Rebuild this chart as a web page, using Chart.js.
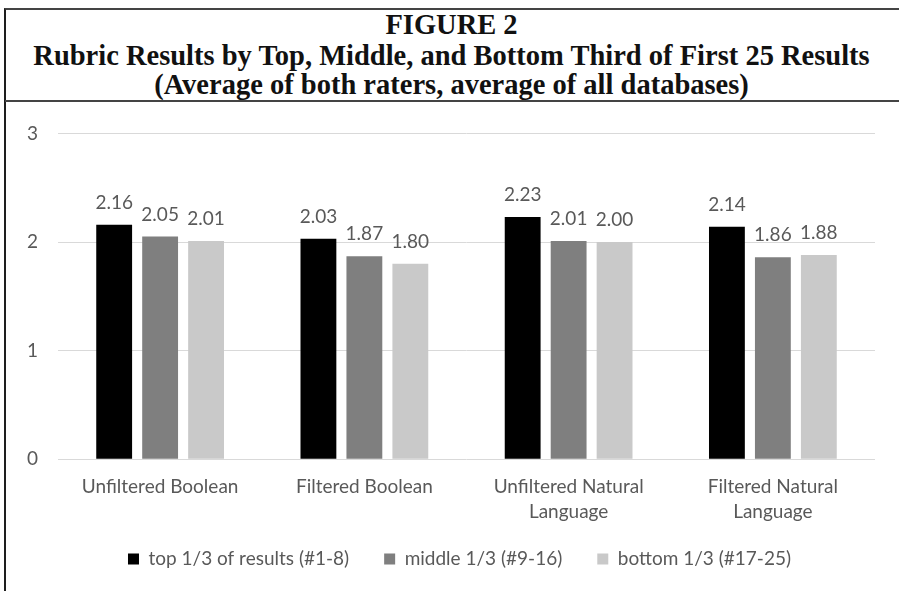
<!DOCTYPE html>
<html>
<head>
<meta charset="utf-8">
<script src="https://cdn.jsdelivr.net/npm/chart.js@4.4.1/dist/chart.umd.min.js"></script>
<style>
  html, body { margin: 0; padding: 0; background: #ffffff; }
  body { width: 899px; height: 591px; position: relative; overflow: hidden; }
  #frame {
    position: absolute; left: 4px; top: 8px; width: 900px; height: 600px;
    border-top: 2px solid #444444; border-left: 2px solid #1e1e1e;
  }
  #rule {
    position: absolute; left: 5px; top: 100px; width: 900px; height: 0;
    border-top: 2px solid #444444;
  }
  .title {
    position: absolute; left: 0; width: 903px; text-align: center;
    font-family: "Liberation Serif", "Times New Roman", serif; font-weight: bold;
    font-size: 28.5px; line-height: 29px; color: #111111; white-space: nowrap;
  }
  #chartBox { position: absolute; left: 6px; top: 102px; }
</style>
</head>
<body>
<div id="frame"></div>
<div id="rule"></div>
<div class="title" style="top:10px">FIGURE 2</div>
<div class="title" style="top:41px">Rubric Results by Top, Middle, and Bottom Third of First 25 Results</div>
<div class="title" style="top:70px">(Average of both raters, average of all databases)</div>
<div id="chartBox"><canvas id="chart" width="893" height="489"></canvas></div>
<script>
// Search approaches compared
const categories = [
  "Unfiltered Boolean",
  "Filtered Boolean",
  ["Unfiltered Natural", "Language"],
  ["Filtered Natural", "Language"]
];

// Average rubric score for each third of the first 25 results
const topThird    = [2.16, 2.03, 2.23, 2.14];
const middleThird = [2.05, 1.87, 2.01, 1.86];
const bottomThird = [2.01, 1.80, 2.00, 1.88];

const seriesNames = [
  "top 1/3 of results (#1-8)",
  "middle 1/3 (#9-16)",
  "bottom 1/3 (#17-25)"
];

const yTicks = [0, 1, 2, 3];

const textColor = "#595959";
const fontFamily = "Lato, 'Open Sans', sans-serif";

// Writes each bar's value above it
const valueLabels = {
  id: "valueLabels",
  afterDatasetsDraw(chart) {
    const ctx = chart.ctx;
    ctx.save();
    ctx.font = "19px " + fontFamily;
    ctx.fillStyle = textColor;
    ctx.textAlign = "center";
    ctx.textBaseline = "alphabetic";
    chart.data.datasets.forEach((ds, i) => {
      const meta = chart.getDatasetMeta(i);
      meta.data.forEach((bar, j) => {
        ctx.fillText(ds.data[j].toFixed(2), bar.x, bar.y - 16);
      });
    });
    ctx.restore();
  }
};

// The category axis is kept short so the legend sits close under it;
// widen its clip box so the second line of the two-line labels still shows,
// and centre the legend under the plot rather than the whole canvas.
const layoutTweaks = {
  id: "layoutTweaks",
  afterLayout(chart) {
    chart.scales.x.bottom += 30;
    chart.legend.left += 19;
    chart.legend.right += 19;
  }
};

new Chart(document.getElementById("chart"), {
  type: "bar",
  data: {
    labels: categories,
    datasets: [
      { label: seriesNames[0], data: topThird,    backgroundColor: "#000000" },
      { label: seriesNames[1], data: middleThird, backgroundColor: "#7f7f7f" },
      { label: seriesNames[2], data: bottomThird, backgroundColor: "#c9c9c9" }
    ]
  },
  options: {
    responsive: false,
    animation: false,
    devicePixelRatio: 1,
    layout: { padding: { left: 0, right: 24, top: 27, bottom: 12.5 } },
    datasets: { bar: { categoryPercentage: 0.675, barPercentage: 0.78 } },
    scales: {
      x: {
        grid: { display: false, drawTicks: false },
        border: { display: false },
        ticks: {
          color: textColor,
          font: { family: fontFamily, size: 19, lineHeight: 1.316 },
          padding: 15,
          maxRotation: 0,
          autoSkip: false
        },
        afterFit(scale) { scale.height = 55.2; }
      },
      y: {
        min: 0,
        max: 3,
        afterBuildTicks(scale) { scale.ticks = yTicks.map(v => ({ value: v })); },
        grid: { color: "#d9d9d9", lineWidth: 1, drawTicks: false },
        border: { display: false },
        ticks: {
          color: textColor,
          font: { family: fontFamily, size: 19 },
          padding: 20
        },
        afterFit(scale) { scale.width = 52; }
      }
    },
    plugins: {
      legend: {
        position: "bottom",
        labels: {
          color: textColor,
          font: { family: fontFamily, size: 19 },
          boxWidth: 11,
          boxHeight: 11,
          padding: 35
        }
      },
      tooltip: { enabled: false },
      title: { display: false }
    }
  },
  plugins: [valueLabels, layoutTweaks]
});
</script>
</body>
</html>
